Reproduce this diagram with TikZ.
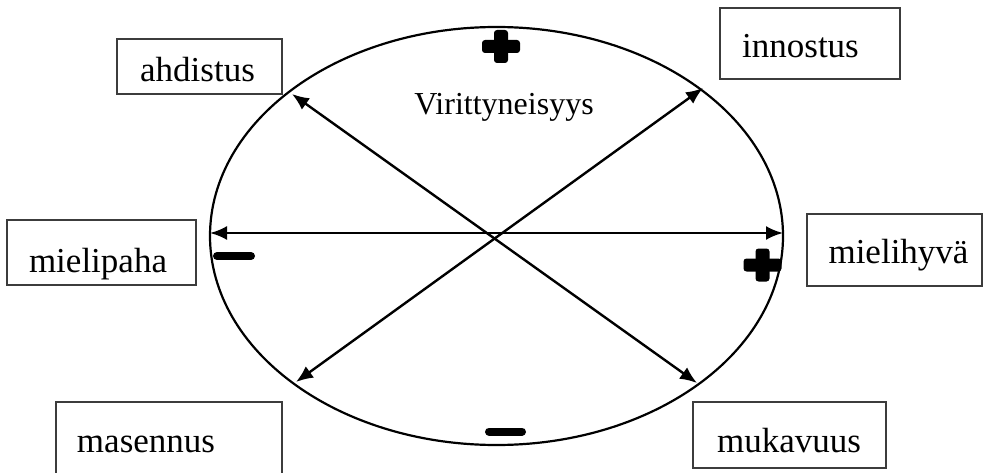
\documentclass[tikz,border=0pt]{standalone}
\usepackage{fontspec}
\setmainfont{Liberation Serif}
\usetikzlibrary{arrows.meta,shapes.geometric,calc}
\definecolor{boxgray}{HTML}{3C3C3C}
\tikzset{
  frame/.style={draw=boxgray, line width=1.4pt, rectangle, inner sep=0pt},
  emotion/.style={font=\fontsize{35}{40}\selectfont, inner sep=0pt, anchor=base},
  axis/.style={line width=2.4pt, {Latex[length=17pt,width=14pt]}-{Latex[length=17pt,width=14pt]}},
  rim/.style={line width=2.2pt},
  minussign/.style={line width=8pt, line cap=round},
}
\newcommand{\plussign}[1]{%
  \fill[rounded corners=3pt] ($(#1)+(-19,-6.5)$) rectangle ($(#1)+(19,6.5)$);
  \fill[rounded corners=3pt] ($(#1)+(-7,-16.5)$) rectangle ($(#1)+(7,16.5)$);
}
\begin{document}
\begin{tikzpicture}[x=1pt,y=-1pt]
\useasboundingbox (0,0) rectangle (984,473);

% circumplex rim
\node[draw, rim, ellipse, minimum width=573, minimum height=418, inner sep=0pt] (rim) at (496.5,236) {};

% arrow end points on the rim
\coordinate (W)  at (210,233);
\coordinate (E)  at (783,233);
\coordinate (NW) at (292,94);
\coordinate (SE) at (697,383);
\coordinate (NE) at (703,88);
\coordinate (SW) at (296,382);

\draw[axis] (W) -- (E);
\draw[axis] (NW) -- (SE);
\draw[axis] (SW) -- (NE);

% axis label
\node[font=\fontsize{32}{38}\selectfont, inner sep=0pt, anchor=base] (arousal) at (504,115) {Virittyneisyys};

% polarity signs
\coordinate (plusTop) at (501,46.5);
\coordinate (plusRight) at (762.5,265);
\plussign{plusTop}
\plussign{plusRight}
\coordinate (minLeftA) at (217,256);
\coordinate (minLeftB) at (251,256);
\coordinate (minBotA) at (489,431.5);
\coordinate (minBotB) at (522,431.5);
\draw[minussign] (minLeftA) -- (minLeftB);
\draw[minussign] (minBotA) -- (minBotB);

% emotion boxes
\node[frame, minimum width=165, minimum height=55] (bAhd) at (199.5,66.5) {};
\node[emotion] (tAhd) at (197.5,82) {ahdistus};

\node[frame, minimum width=180, minimum height=71] (bInn) at (810,43.5) {};
\node[emotion] (tInn) at (800.5,58) {innostus};

\node[frame, minimum width=189, minimum height=65] (bMpa) at (101.5,252.5) {};
\node[emotion] (tMpa) at (98,272) {mielipaha};

\node[frame, minimum width=175, minimum height=72] (bMhy) at (894.5,250) {};
\node[emotion] (tMhy) at (898.5,263) {mielihyvä};

\node[frame, minimum width=226, minimum height=84] (bMas) at (169,444) {};
\node[emotion] (tMas) at (146,452) {masennus};

\node[frame, minimum width=193, minimum height=66] (bMuk) at (789.5,435) {};
\node[emotion] (tMuk) at (789,452) {mukavuus};
\end{tikzpicture}
\end{document}
